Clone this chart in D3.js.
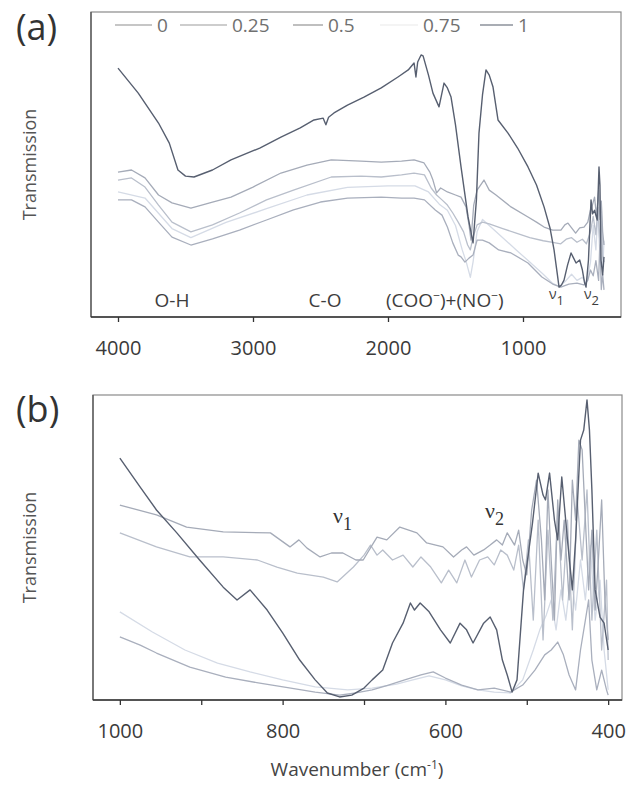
<!DOCTYPE html>
<html><head><meta charset="utf-8">
<script src="https://cdn.jsdelivr.net/npm/d3@7"></script>
<style>
html,body{margin:0;padding:0;background:#fff;}
svg{display:block;}
text{font-family:"Open Sans",sans-serif;}
</style></head>
<body>
<svg id="chart" width="626" height="788"></svg>
<script>
// ---------- DATA ----------
const seriesNames = ["0", "0.25", "0.5", "0.75", "1"];
const xTicksA = [4000, 3000, 2000, 1000];
const xTicksB = [1000, 900, 800, 700, 600, 500, 400];
const xLabelsB = [1000, 800, 600, 400];

// Panel (a): full range spectra (wavenumber, relative transmission)
const aWn_0 = [4000,3900,3800,3700,3600,3460,3300,3100,2900,2700,2500,2300,2050,1900,1807,1730,1650,1600,1560,1520,1480,1459,1430,1400,1370,1340,1300,1250,1180,1089,963,860,780,720,660,600,550,520,500,480,460,440,430,420,410,400];
const aT_0  = [38.4,38.4,36.1,31.1,26.2,23.6,25.6,28.5,31.8,35.1,37.7,39.0,39.3,39.0,39.0,38.4,35.1,33.4,29.5,24.3,20.3,19.7,18.0,19.3,20.3,25.2,25.2,24.3,22.0,21.0,17.7,13.1,10.8,9.8,10.8,11.1,10.5,12.0,15.4,13.5,18.5,12.0,25.2,9.0,14.0,8.9];
const aWn_025 = [4000,3900,3800,3700,3600,3460,3300,3100,2900,2700,2420,2200,2050,1900,1807,1730,1680,1640,1600,1560,1520,1480,1440,1410,1390,1370,1340,1300,1250,1150,1050,950,850,780,720,680,640,600,560,530,500,480,460,445,430,420,410,400];
const aT_025  = [44.9,45.6,42.6,36.7,31.1,27.9,30.2,34.1,38.4,41.6,45.9,46.2,45.9,46.6,47.2,46.6,42.3,40.0,38.4,36.7,34.1,31.1,27.9,23.6,22.0,26.2,30.2,31.1,30.5,29.0,27.5,26.0,25.0,24.5,24.0,25.5,26.0,24.5,25.5,24.0,28.0,33.0,27.0,36.0,24.0,34.0,20.0,18.0];
const aWn_05 = [4000,3900,3800,3700,3600,3460,3300,3163,3000,2793,2600,2420,2200,2050,1900,1807,1733,1690,1667,1640,1610,1560,1500,1459,1422,1400,1385,1365,1340,1289,1250,1200,1089,963,900,844,780,719,690,667,640,610,580,548,520,500,490,470,455,440,430,420,410,400];
const aT_05  = [47.5,48.2,45.6,40.0,37.4,35.7,37.7,39.3,42.6,47.2,49.8,51.5,51.1,50.8,51.1,51.5,50.5,47.5,44.9,40.7,42.3,41.0,40.0,39.3,36.1,30.2,25.2,36.7,41.6,44.9,41.6,40.0,36.1,32.8,31.1,29.5,28.5,28.5,30.2,30.8,29.2,27.5,29.2,29.5,31.1,35.1,36.0,39.3,33.0,41.6,32.0,38.0,28.0,23.6];
const aWn_075 = [4000,3800,3600,3460,3200,2900,2600,2300,2000,1800,1700,1620,1560,1500,1450,1420,1390,1370,1340,1300,1250,1150,1050,950,850,780,730,680,640,600,560,530,500,480,460,445,430,420,410,400];
const aT_075  = [41,39,29,26,31,35.5,40,42.5,43,43,41,37,35,30,22,18,13,18,28,32,30,26,22,18,14,11,10,12,14,12,13,11,18,30,22,34,20,38,15,25];
const aWn_1 = [4000,3850,3700,3620,3556,3500,3437,3300,3163,2950,2793,2650,2548,2480,2460,2440,2400,2300,2178,2050,1926,1850,1807,1793,1780,1755,1740,1700,1667,1622,1585,1560,1533,1500,1459,1407,1370,1345,1326,1300,1274,1250,1222,1185,1111,1040,963,900,844,800,770,745,733,715,696,670,644,625,607,580,560,545,533,515,496,485,470,450,437,430,422,410,400];
const aT_1  = [81.6,73.4,63.6,57.0,48.2,46.2,45.9,48.2,51.5,55.4,59.0,62.0,64.6,65.2,63.0,65.5,66.9,69.5,72.1,75.1,78.7,81.0,83.3,78.7,83.6,85.9,85.6,79.3,73.4,68.9,76.7,75.1,72.1,63.0,49.2,32.8,24.3,38.4,60.3,72.8,81.0,79.3,75.4,64.6,60.3,55.4,49.2,43.3,36.1,29.2,22.0,13.8,9.8,10.5,12.1,17.0,21.0,19.3,17.7,18.7,15.4,11.5,9.8,18.7,38.4,33.8,35.0,31.8,49.2,43.3,18.7,13.8,19.7];

// Panel (b): 1000-400 cm-1 region
const bWn_0 = [1000,975,955,914,870,830,790,760,730,710,690,670,650,630,615,600,580,560,540,520,505,490,478,470,462,455,448,440,434,428,424,420,414,408,402,400];
const bT_0  = [20.7,18.0,15.4,10.8,7.5,5.6,3.9,2.6,1.6,2.3,3.3,4.9,6.6,8.2,9.2,7.2,4.9,3.3,3.9,2.6,4.9,9.8,14.8,16.4,19.0,14.8,8.2,3.3,16.4,26.2,32.8,13.1,3.3,9.8,3.3,1.6];
const bWn_025 = [1000,955,914,873,831,807,782,750,733,713,700,692,684,677,665,652,640,630,618,605,596,586,576,568,558,548,540,532,524,516,510,504,498,492,486,480,474,468,462,456,450,444,438,432,426,420,414,408,402,400];
const bT_025  = [54.8,50.2,46.9,46.9,45.9,43.6,41.6,40.3,38.7,43.6,47.5,50.8,47.5,49.2,45.9,47.5,43.6,46.9,43.6,38.4,42.6,38.4,45.9,40.3,45.9,46.9,44.3,49.2,47.5,42.6,50.8,36.1,52.5,26.2,59.0,19.7,55.7,26.2,62.3,32.8,59.0,23.0,65.6,45.9,68.9,26.2,55.7,16.4,39.3,13.1];
const bWn_05 = [1000,955,918,873,815,803,791,780,770,754,740,726,710,701,690,684,672,656,645,635,623,603,590,580,574,565,553,545,537,530,524,515,510,505,500,494,488,482,478,474,470,466,462,458,454,448,444,440,436,432,428,424,420,416,412,408,404,400];
const bT_05  = [63.9,60.7,56.7,55.1,54.8,52.5,50.2,52.5,49.8,46.9,48.2,48.2,45.9,45.9,50.8,53.4,52.5,56.7,55.7,54.8,51.5,50.2,46.9,49.2,50.2,47.5,49.2,50.8,52.5,50.8,54.8,50.8,55.7,45.9,41.0,62.3,72.1,52.5,32.8,68.9,45.9,26.2,65.6,45.9,59.0,32.8,72.1,59.0,85.2,82.0,59.0,36.1,55.7,29.5,45.9,65.6,32.8,19.7];
const bWn_075 = [1000,960,920,880,840,800,760,720,690,660,640,620,600,580,560,540,520,505,492,484,476,470,464,458,452,446,440,434,428,422,416,410,405,400];
const bT_075  = [28.9,22.3,16.4,12.1,9.2,6.6,4.3,3.3,3.9,5.2,6.6,7.9,6.6,4.6,3.3,2.6,2.3,6.6,16.4,23.0,27.9,32.8,23.0,36.1,26.2,41.0,29.5,45.9,32.8,50.8,26.2,39.3,16.4,3.3];
const bWn_1 = [1000,975,955,930,902,873,856,840,819,800,779,760,745,730,715,700,690,677,665,652,643,638,631,620,606,594,582,574,566,553,545,537,530,524,518,512,504,493,486,480,477,472,466,462,457,450,444,440,434,430,426,423,420,416,410,405,400];
const bT_1  = [79.3,69.8,62.3,54.8,45.9,37.0,32.8,36.1,29.5,22.0,13.1,6.6,2.3,1.0,1.6,3.9,6.6,9.8,18.7,25.2,31.8,29.5,31.8,28.9,23.0,18.7,25.2,23.0,18.7,25.2,27.2,23.0,13.1,8.2,2.6,6.6,36.1,58.0,74.4,67.2,65.6,74.4,59.0,52.5,73.1,52.5,36.1,52.5,85.2,88.5,98.4,88.5,68.9,36.1,27.2,25.2,16.4];

const colors = ["#a9afbd", "#b9bfcb", "#a5abb8", "#d5dbe6", "#575f70"];
const legendColors = ["#b3b3b3", "#bdbdbd", "#aaaaaa", "#f0f0f0", "#8d929b"];

// ---------- DRAW ----------
const svg = d3.select("#chart");
const zip = (w, t) => w.map((v, i) => [v, t[i]]);

function panel(cfg) {
  const x = d3.scaleLinear().domain(cfg.xDomain).range([cfg.left, cfg.right]);
  const y = d3.scaleLinear().domain([0, 100]).range([cfg.bottom, cfg.top]);
  const g = svg.append("g");
  g.append("rect").attr("x", cfg.left).attr("y", cfg.top)
    .attr("width", cfg.right - cfg.left).attr("height", cfg.bottom - cfg.top)
    .attr("fill", "none").attr("stroke", "#8a8a8a").attr("stroke-width", 1.2);
  const line = d3.line().x(d => x(d[0])).y(d => y(d[1]));
  const order = [3, 0, 1, 2, 4];
  order.forEach(i => {
    g.append("path").datum(cfg.series[i]).attr("d", line)
      .attr("fill", "none").attr("stroke", colors[i])
      .attr("stroke-width", i === 4 ? 1.4 : 1.3).attr("stroke-linejoin", "round");
  });
  g.append("line").attr("x1", cfg.left).attr("x2", cfg.left).attr("y1", cfg.top).attr("y2", cfg.bottom)
    .attr("stroke", "#555").attr("stroke-width", 1.3);
  const ax = d3.axisBottom(x).tickValues(cfg.ticks).tickSize(5).tickPadding(19)
    .tickFormat(cfg.fmt);
  const axg = g.append("g").attr("transform", `translate(0,${cfg.bottom})`).call(ax);
  axg.select(".domain").attr("stroke", "#333").attr("stroke-width", 1.6)
    .attr("d", `M${cfg.left},0H${cfg.right}`);
  axg.selectAll(".tick line").attr("stroke", "#333").attr("stroke-width", 1.3);
  axg.selectAll(".tick text").attr("fill", "#3a3a3a").style("font-size", "20px")
    .style("font-family", "'Open Sans',sans-serif");
  g.append("text").attr("transform", `translate(${cfg.ylabX},${(cfg.top + cfg.bottom) / 2}) rotate(-90)`)
    .attr("text-anchor", "middle").attr("fill", "#555").style("font-size", "18px").text("Transmission");
  g.append("text").attr("x", 16).attr("y", cfg.tagY).attr("fill", "#333")
    .style("font-size", "36px").text(cfg.tag);
  return {x, y, g};
}

panel({
  left: 91, right: 621, top: 12, bottom: 317, xDomain: [4200, 274],
  ticks: xTicksA, fmt: d3.format("d"), ylabX: 36, tag: "(a)", tagY: 40,
  series: [zip(aWn_0, aT_0), zip(aWn_025, aT_025), zip(aWn_05, aT_05), zip(aWn_075, aT_075), zip(aWn_1, aT_1)]
});
panel({
  left: 93, right: 622, top: 395, bottom: 700, xDomain: [1033, 383],
  ticks: xTicksB, fmt: d => xLabelsB.includes(d) ? d3.format("d")(d) : "", ylabX: 36, tag: "(b)", tagY: 422,
  series: [zip(bWn_0, bT_0), zip(bWn_025, bT_025), zip(bWn_05, bT_05), zip(bWn_075, bT_075), zip(bWn_1, bT_1)]
});

// Legend (panel a)
const legendX = [115, 180, 293, 380, 480];
const legendW = [37, 47, 30, 38, 33];
seriesNames.forEach((n, i) => {
  svg.append("line").attr("x1", legendX[i]).attr("x2", legendX[i] + legendW[i])
    .attr("y1", 25).attr("y2", 25).attr("stroke", legendColors[i]).attr("stroke-width", 1.5);
  svg.append("text").attr("x", legendX[i] + legendW[i] + 5).attr("y", 32)
    .attr("fill", "#707070").style("font-size", "19px").text(n);
});

// Annotations panel a
const annA = svg.append("g").attr("fill", "#3d3d3d").style("font-size", "19px");
annA.append("text").attr("x", 172).attr("y", 307).attr("text-anchor", "middle").text("O-H");
annA.append("text").attr("x", 325).attr("y", 307).attr("text-anchor", "middle").text("C-O");
const coo = annA.append("text").attr("x", 386).attr("y", 307);
coo.append("tspan").text("(COO");
coo.append("tspan").attr("dy", -7).style("font-size", "12px").text("\u2212");
coo.append("tspan").attr("dy", 7).text(")+(NO");
coo.append("tspan").attr("dy", -7).style("font-size", "12px").text("\u2212");
coo.append("tspan").attr("dy", 7).text(")");
[["1", 549], ["2", 584]].forEach(([s, xx]) => {
  const t = annA.append("text").attr("x", xx).attr("y", 299).style("font-size", "14px");
  t.append("tspan").text("\u03bd");
  t.append("tspan").attr("dy", 6).style("font-size", "13px").text(s);
});

// Annotations panel b
[["1", 333, 523], ["2", 485, 518]].forEach(([s, xx, yy]) => {
  const t = svg.append("text").attr("x", xx).attr("y", yy).attr("fill", "#333")
    .style("font-family", "'Liberation Serif',serif").style("font-size", "22px");
  t.append("tspan").text("\u03bd");
  t.append("tspan").attr("dy", 7).style("font-size", "18px").text(s);
});

// x-axis title
const xt = svg.append("text").attr("x", 357).attr("y", 776).attr("text-anchor", "middle")
  .attr("fill", "#444").style("font-size", "19px");
xt.append("tspan").text("Wavenumber (cm");
xt.append("tspan").attr("dy", -7).style("font-size", "12px").text("-1");
xt.append("tspan").attr("dy", 7).text(")");
</script>
</body></html>
